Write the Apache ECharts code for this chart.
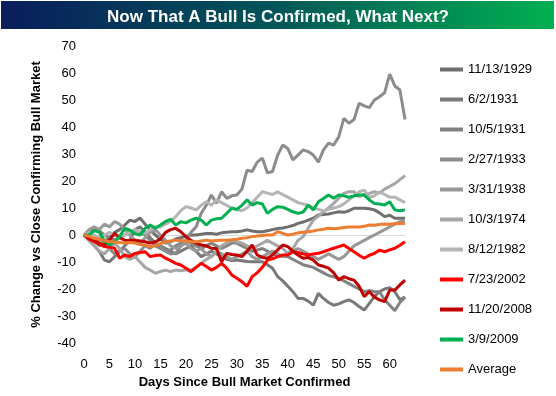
<!DOCTYPE html>
<html>
<head>
<meta charset="utf-8">
<script src="https://cdn.jsdelivr.net/npm/echarts@6/dist/echarts.min.js"></script>
<style>
  html, body { margin: 0; padding: 0; background: #fff; }
  #chart { width: 556px; height: 396px; }
</style>
</head>
<body>
<div id="chart"></div>
<script>
// days since confirmation, 0..63
const days = Array.from({ length: 64 }, (_, i) => String(i));

const s1929 = [0, -1, -2, -1.5, -2.5, -1, 1, 2, 3.7, 5.5,
  5, 6.3, 4, 1.9, 0, -1.5, -3, -2.5, -1.5, -1,
  -0.5, 0, 0, 0.3, 0.6, 0.6, 0.3, 0.8, 1, 1.2,
  1.2, 1.5, 1.9, 1.5, 1.2, 1.2, 1.6, 2, 2.4, 2.6,
  3, 3.5, 4.3, 4.8, 5.5, 6.2, 7.4, 7.6, 7.8, 8.2,
  8.6, 8.4, 9, 9.9, 9.9, 9.9, 9.7, 9.3, 8.2, 6.8,
  7.3, 6.2, 6.2, 6.2];
const s1931a = [0, -2, -4, -6, -9.3, -9.9, -8, -6, -4, -2,
  2, 3, 1, -1, -3, -4, -5, -6, -7, -6,
  -5, -4, -6, -8, -7, -6, -7, -8, -9, -9.5,
  -9.3, -9.5, -9.8, -9.9, -9.9, -9.9, -11, -12.3, -15.4, -17,
  -19, -21, -23.5, -23.5, -24.5, -26, -21.6, -23.5, -25, -26,
  -25.5, -24.7, -24, -25, -26.5, -27.8, -25.3, -22.8, -21, -20,
  -19.5, -21, -24, -23];
const s1931b = [0, 1, 2, 1.5, 0, -1, -2, -1, 0, 1,
  2, 1, 0, -2, -4, -5, -6, -5.5, -4, -3,
  -2, -3, -4, -5, -4, -3, -4, -5, -4, -3,
  -3, -4, -5, -6, -5.5, -5, -6, -7, -7.5, -8,
  -8, -9, -10, -11, -11.5, -12, -13, -14, -15, -15.5,
  -16, -17, -18, -19, -20, -21, -20.5, -21, -21, -24,
  -26, -28, -25, -23];
const s1933 = [0, -1, -2, -4, -3, -5, -7, -6, -5, -7,
  -8, -6, -4, -5, -3, -4, -6, -7, -6.8, -4,
  -1.9, 1, 3, 8, 11, 14.8, 11.8, 16, 13.6, 14.5,
  14.8, 17, 24, 23.5, 27, 28.5, 23, 23.5, 29.6, 33.3,
  32, 27.8, 29.6, 31.5, 30.9, 29.6, 27, 31.5, 34, 33.3,
  36.4, 43.2, 41.4, 42.8, 48.8, 47.8, 47.2, 50, 51.2, 52.7,
  59.6, 55.2, 53.7, 42.8];
const s1938 = [0, 2, 3, 2, 4, 3, 5, 4, 2, 0,
  -2, -3, -1, 1, 2, 0, -2, -4, -5, -4,
  -3, -5, -6, -5, -7, -8, -6, -7, -8, -9,
  -8, -7, -6, -8, -9, -8, -7, -6, -7, -8,
  -7, -6, -5, -6, -7, -8, -9, -8, -7, -8,
  -9, -8, -6, -4, -3, -2, -1, 0, 1, 2,
  3, 4, 5, 5];
const s1974 = [0, -2, -4, -6, -7, -5, -3, -5, -8, -9,
  -8, -10, -12, -13, -14.2, -13.5, -13, -13.5, -13, -13.2,
  -13, -13, -12, -10.5, -9, -8, -6, -4, -3, -2,
  -2.5, -3, -4, -5, -4, -3, -2, -3, -4, -5,
  -6.8, -5, -2, -0.6, 2.5, 5.5, 7, 8.6, 10, 11.7,
  13.6, 15.4, 16, 16, 14.2, 15, 15.4, 16, 15.5, 17,
  18, 19, 20.5, 22];
const s1982 = [0, 1, 0, -1, 0, 1, 0, -1, 0, 1,
  2, 1, 0.6, 2, 3, 3, 4, 5, 6.8, 9,
  10.5, 10, 9.3, 11, 12.3, 11, 13, 12, 11, 10,
  9.3, 9, 10, 12, 14, 16, 15.5, 15, 16, 15,
  14, 13, 12, 11.5, 11, 10, 9.5, 9, 9.5, 10,
  10.5, 11.5, 13, 14.5, 16, 16.6, 14, 14.5, 16, 15,
  14, 14, 13, 12];
const s2002 = [0, -1.5, -2.5, -3.5, -4.3, -4.5, -4.9, -8.6, -7.4, -8,
  -6.8, -6.5, -6.2, -8, -7.6, -7.4, -8.6, -9.5, -10.5, -11.1,
  -12.3, -13.6, -12, -10.5, -11.7, -13, -12, -10.5, -12.3, -14.8,
  -16, -17.3, -19, -15.4, -14, -12, -9.3, -8.8, -8, -7.4,
  -7.4, -6.2, -6.5, -7, -7.4, -7, -6.8, -6.2, -5.5, -4.9,
  -4.3, -3.7, -5, -6.2, -7.5, -8.6, -7.5, -6.8, -5.6, -6.2,
  -5.5, -4.9, -3.8, -2.5];
const s2008 = [0, -1, -1.9, -3, -3.7, -1.9, 0.6, -1, -1.9, -2,
  -1.9, -2.2, -2.5, -3, -2.5, -1.5, 1, 2, 2.5, 1.2,
  -0.6, -2, -3, -3.7, -4, -4.9, -5, -9.9, -6.8, -7.2,
  -7.4, -8, -6, -3.7, -7.4, -8.3, -8.6, -7.4, -5.5, -3.7,
  -4.3, -6, -7.4, -8.6, -8.3, -9.3, -11.1, -11.6, -12.3, -14,
  -16.7, -15.4, -16.2, -16.7, -19, -22.8, -21, -23, -24, -24.7,
  -20.4, -20.4, -18.5, -16.7];
const s2009 = [0, 0, 1.6, 1, -2, -3.7, -2.5, -0.6, 2.5, 1.8,
  0.5, 0, 2.5, 3.7, 2.5, 3.7, 5, 5.8, 3.7, 4.9,
  4.5, 5.5, 6.2, 5.5, 3.7, 5.5, 6, 6.2, 8, 9.9,
  9.5, 11, 13, 11.1, 12, 11.5, 8, 9.5, 10.5, 10.3,
  9.5, 8.6, 8, 8.5, 11.1, 9.3, 12.3, 13.5, 14.8, 13.6,
  14.8, 14.5, 14, 14.5, 14.8, 14.8, 13, 11.7, 11.5, 11.1,
  12.3, 9.3, 9, 9.3];
const average = [0, -0.5, -1.2, -1.6, -2, -2.5, -2.6, -2.8, -3, -2.8,
  -3, -3.5, -3.7, -4.3, -4, -3.2, -2.5, -2.2, -1.9, -2,
  -2.2, -2.5, -2.5, -2.2, -1.9, -2.2, -2, -1.9, -1.9, -1.8,
  -1.6, -1.2, -1, -0.6, -0.4, -0.2, 0, 0, 1.2, 0.6,
  0, 0.3, 0.8, 1, 1.2, 1.5, 1.9, 2.1, 2.5, 2.3,
  2.5, 2.8, 3, 3, 3, 3.2, 3.7, 3.6, 3.9, 4.1,
  4, 4.2, 4.3, 4.3];

const names = ['11/13/1929', '6/2/1931', '10/5/1931', '2/27/1933', '3/31/1938',
  '10/3/1974', '8/12/1982', '7/23/2002', '11/20/2008', '3/9/2009', 'Average'];
const seriesData = [s1929, s1931a, s1931b, s1933, s1938, s1974, s1982, s2002, s2008, s2009, average];
const colors = ['#6f6f6f', '#787878', '#828282', '#8c8c8c', '#989898', '#a6a6a6', '#b5b5b5',
  '#ff0000', '#c00000', '#00b050', '#ed7d31'];

const font = 'Liberation Sans, Arial, sans-serif';

const chart = echarts.init(document.getElementById('chart'));

const series = names.map((name, i) => {
  const s = {
    name: name,
    type: 'line',
    data: seriesData[i],
    symbol: 'none',
    lineStyle: { width: 3, color: colors[i] },
    itemStyle: { color: colors[i] },
    animation: false,
  };
  if (i === 0) {
    // thin zero line, the x labels stay at the bottom
    s.markLine = {
      silent: true,
      symbol: 'none',
      label: { show: false },
      lineStyle: { color: '#d9d9d9', width: 1, type: 'solid' },
      data: [{ yAxis: 0 }],
      z: 1,
    };
  }
  return s;
});

const option = {
  backgroundColor: '#fff',
  animation: false,
  color: colors,
  graphic: [
    {
      type: 'rect',
      shape: { x: 1, y: 1, width: 553, height: 28 },
      style: {
        fill: new echarts.graphic.LinearGradient(0, 0, 1, 0, [
          { offset: 0, color: '#0a1d5c' },
          { offset: 0.5, color: '#025658' },
          { offset: 1, color: '#00b050' },
        ]),
      },
      z: -1,
    },
  ],
  title: {
    text: 'Now That A Bull Is Confirmed, What Next?',
    left: 'center',
    top: 4,
    textStyle: { color: '#fff', fontSize: 17, fontWeight: 'bold', fontFamily: font },
  },
  legend: {
    orient: 'vertical',
    left: 435,
    top: 58,
    height: 335,
    itemWidth: 23,
    itemHeight: 4,
    itemGap: 17,
    icon: 'rect',
    textStyle: { color: '#000', fontSize: 13, fontFamily: font },
    data: names,
  },
  grid: { left: 84, right: 151, top: 46, bottom: 53 },
  xAxis: {
    type: 'category',
    data: days,
    boundaryGap: false,
    name: 'Days Since Bull Market Confirmed',
    nameLocation: 'middle',
    nameGap: 33,
    nameTextStyle: { color: '#000', fontSize: 13, fontWeight: 'bold', fontFamily: font },
    axisLine: { show: false },
    axisTick: { show: false },
    axisLabel: { interval: 4, color: '#000', fontSize: 13, fontFamily: font, margin: 15 },
  },
  yAxis: {
    type: 'value',
    min: -40,
    max: 70,
    interval: 10,
    name: '% Change vs Close Confirming Bull Market',
    nameLocation: 'middle',
    nameGap: 41,
    nameTextStyle: { color: '#000', fontSize: 13, fontWeight: 'bold', fontFamily: font },
    axisLine: { show: false },
    axisTick: { show: false },
    splitLine: { show: false },
    axisLabel: { color: '#000', fontSize: 13, fontFamily: font, margin: 8 },
  },
  series: series,
};

chart.setOption(option);
</script>
</body>
</html>
